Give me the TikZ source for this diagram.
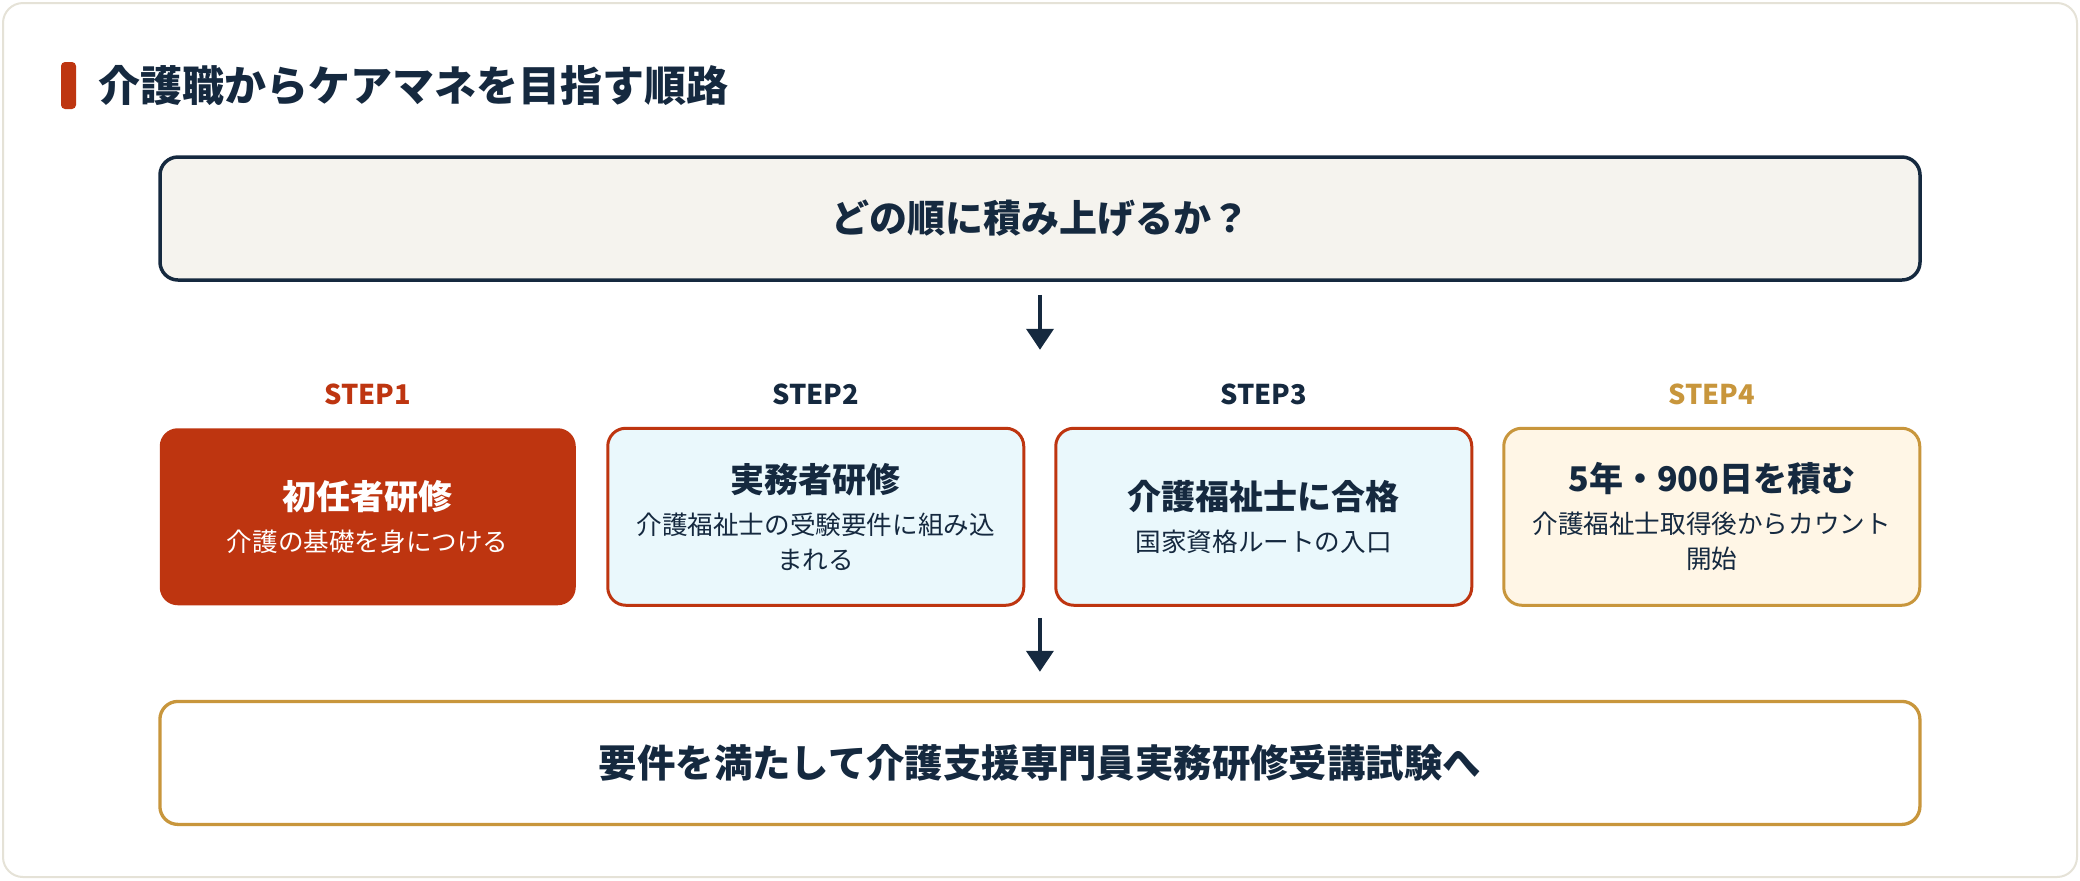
\documentclass[tikz,border=0pt]{standalone}
\usepackage{fontspec}
\setmainfont{Noto Sans CJK JP}
\usetikzlibrary{%
  arrows.meta,%
  positioning% wg. " of "
}
\definecolor{navy}{HTML}{15293F}
\definecolor{rust}{HTML}{BE3510}
\definecolor{gold}{HTML}{C8963C}
\definecolor{paleblue}{HTML}{EAF8FC}
\definecolor{cream}{HTML}{FFF6E6}
\definecolor{paper}{HTML}{F5F3EE}
\definecolor{rim}{HTML}{E5E2D7}
\newcommand{\stephead}[1]{{\fontsize{17pt}{21pt}\selectfont\bfseries #1}}

\begin{document}
\begin{tikzpicture}
       \tikzset{bar/.style={rectangle, rounded corners=2pt, fill=rust, minimum width=7.5pt, minimum height=23.5pt, inner sep=0pt}}
       \tikzset{headline/.style={inner sep=0pt, text=navy, font=\fontsize{21pt}{25pt}\selectfont\bfseries}}

       \tikzset{question/.style={rectangle, rounded corners=9pt, draw=navy, line width=1.75pt, fill=paper,
                minimum width=880pt, minimum height=61.5pt, inner sep=0pt, text=navy, font=\fontsize{19pt}{23pt}\selectfont\bfseries}}
       \tikzset{goalbox/.style={question, draw=gold, fill=white, line width=1.65pt, minimum height=61.5pt,
                font=\fontsize{19.2pt}{23pt}\selectfont\bfseries}}

       \tikzset{stepbase/.style={rectangle, rounded corners=9pt, line width=1.5pt, minimum width=208pt,
                minimum height=88.5pt, inner sep=0pt, align=center, font=\fontsize{12.8pt}{17.5pt}\selectfont}}
       \tikzset{stepred/.style={stepbase, fill=rust, text=white}}
       \tikzset{stepblue/.style={stepbase, draw=rust, fill=paleblue, text=navy}}
       \tikzset{stepcream/.style={stepbase, draw=gold, fill=cream, text=navy}}
       \tikzset{steptag/.style={inner sep=0pt, font=\fontsize{13.6pt}{16pt}\selectfont\bfseries}}

       \tikzset{flow/.style={-{Triangle[width=13.5pt,length=10.5pt]}, line width=2pt, draw=navy}}

        \useasboundingbox (0,0) rectangle (1040pt,-440pt);
        \draw[rim, line width=1pt, fill=white, rounded corners=10pt] (1.5pt,-1.5pt) rectangle (1038.5pt,-438.5pt);

        \node[bar] (bar) at (34.25pt,-42.75pt) {};
        \node[headline, right=11pt of bar] (title) {介護職からケアマネを目指す順路};

        \node[question] (q) at (520pt,-109.25pt) {どの順に積み上げるか？};

        \node[stepred, below right=72.5pt and 0pt of q.south west] (s1) {\stephead{初任者研修}\\[3.5pt]介護の基礎を身につける};
        \node[stepblue, right=14.5pt of s1] (s2) {\stephead{実務者研修}\\[3.5pt]介護福祉士の受験要件に組み込\\まれる};
        \node[stepblue, right=14.5pt of s2] (s3) {\stephead{介護福祉士に合格}\\[3.5pt]国家資格ルートの入口};
        \node[stepcream, right=14.5pt of s3] (s4) {\stephead{5年・900日を積む}\\[3.5pt]介護福祉士取得後からカウント\\開始};

        \node[steptag, text=rust, above=10.5pt of s1] (t1) {STEP1};
        \node[steptag, text=navy, above=10.5pt of s2] (t2) {STEP2};
        \node[steptag, text=navy, above=10.5pt of s3] (t3) {STEP3};
        \node[steptag, text=gold, above=10.5pt of s4] (t4) {STEP4};

        \node[goalbox, below right=46.5pt and 0pt of s1.south west] (goal) {要件を満たして介護支援専門員実務研修受講試験へ};

        \coordinate (rowtop) at (q.south |- s1.north);
        \coordinate (rowbot) at (goal.north |- s1.south);

        \draw[flow, shorten <=6.5pt, shorten >=38.5pt] (q.south) -- (rowtop);
        \draw[flow, shorten <=5.5pt, shorten >=14pt] (rowbot) -- (goal.north);
   \end{tikzpicture}
\end{document}
